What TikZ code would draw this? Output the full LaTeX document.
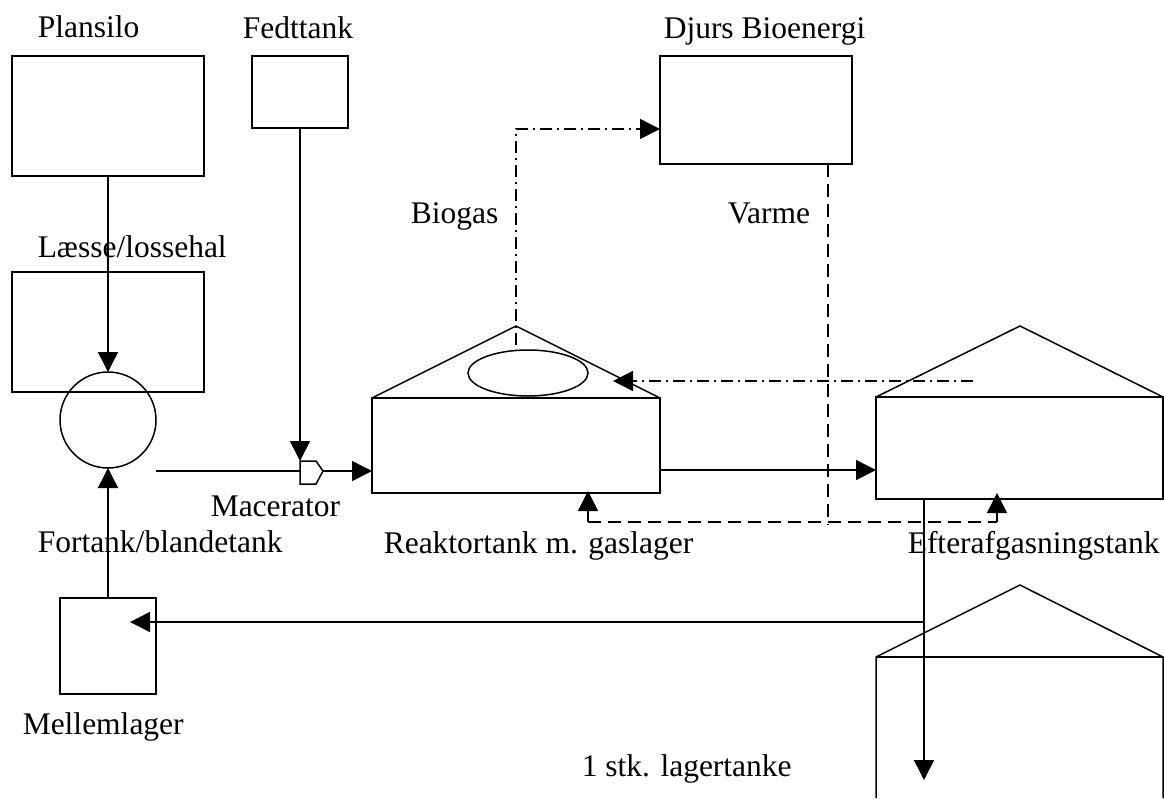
\documentclass[tikz,border=0pt]{standalone}
\usepackage{fontspec}
\setmainfont{Liberation Serif}
\usetikzlibrary{arrows.meta,shapes.geometric}
\begin{document}
\begin{tikzpicture}[x=1pt,y=-1pt,
  every path/.style={line width=1.5pt},
  box/.style={draw,rectangle,line width=1.5pt,inner sep=0pt,outer sep=0pt},
  lbl/.style={anchor=base west,inner sep=0pt,font=\fontsize{31.5}{36}\selectfont},
  flow/.style={-{Triangle[length=20pt,width=20pt]}},
  gasline/.style={dash pattern=on 12pt off 5pt on 2pt off 5pt},
  heatline/.style={dash pattern=on 13pt off 7pt}]
\useasboundingbox (0,0) rectangle (1164,798);
% boxes
\node[box,minimum width=192pt,minimum height=120pt] (plansilo) at (108,116) {};
\node[box,minimum width=96pt,minimum height=72pt] (fedt) at (300,92) {};
\node[box,minimum width=192pt,minimum height=108pt] (djurs) at (756,110) {};
\node[box,minimum width=192pt,minimum height=120pt] (laesse) at (108,332) {};
\node[draw,circle,line width=1.5pt,inner sep=0pt,outer sep=0pt,minimum size=96pt] (mix) at (108,420) {};
\node[box,minimum width=96pt,minimum height=96pt] (mellem) at (108,646) {};
\node[box,minimum width=288pt,minimum height=95pt] (reactor) at (516,445.5) {};
\node[box,minimum width=287pt,minimum height=102pt] (efter) at (1019.5,448) {};
\node[draw,ellipse,line width=1.5pt,inner sep=0pt,minimum width=120pt,minimum height=46pt] (gas) at (528,373) {};
% roofs
\coordinate (rtop) at (516,326);
\coordinate (etop) at (1020,326);
\draw (reactor.north west) -- (rtop) -- (reactor.north east);
\draw (efter.north west) -- (etop) -- (efter.north east);
% storage tank (open bottom)
\coordinate (ltop) at (1020,585);
\coordinate (lwl) at (876,657);
\coordinate (lwr) at (1163,657);
\draw (876,798) -- (lwl) -- (ltop) -- (lwr) -- (1163,798);
\draw (lwl) -- (lwr);
% macerator
\coordinate (mactop) at (300,461);
\coordinate (macin) at (300,471);
\coordinate (macout) at (323,471);
\draw (mactop) -- (316,461) -- (macout) -- (316,484) -- (300,484) -- cycle;
% flows
\coordinate (fy) at (0,470);
\draw[flow] (plansilo.south) -- (mix.north);
\draw[flow] (fedt.south) -- (mactop);
\draw[flow] (mellem.north) -- (mix.south);
\draw (mix.east |- macin) -- (macin);
\draw[flow] (macout) -- (reactor.west |- macout);
\draw[flow] (reactor.east |- fy) -- (efter.west |- fy);
\coordinate (pipetop) at (924,499);
\coordinate (pipebr) at (924,622);
\coordinate (lagerend) at (924,780);
\coordinate (mellemin) at (130,622);
\draw[flow] (pipetop) -- (lagerend);
\draw[flow] (pipebr) -- (mellemin);
% biogas
\coordinate (bgstart) at (516,345);
\coordinate (bgcorner) at (516,129);
\draw[gasline,flow] (bgstart) -- (bgcorner) -- (djurs.west |- bgcorner);
\coordinate (gasret) at (973,381);
\coordinate (gasin) at (613,381);
\draw[gasline,flow] (gasret) -- (gasin);
% heat
\coordinate (hv) at (828,525);
\coordinate (hl) at (588,522);
\coordinate (hr) at (997,522);
\draw[heatline] (djurs.south -| hv) -- (hv);
\draw[heatline] (hl) -- (hr);
\draw[heatline,flow] (hl) -- (588,491);
\draw[heatline,flow] (hr) -- (997,493);
% labels
\node[lbl] (tplansilo) at (37,37) {Plansilo};
\node[lbl] (tfedt) at (242,38) {Fedttank};
\node[lbl] (tdjurs) at (663,38) {Djurs Bioenergi};
\node[lbl] (tbiogas) at (410,223) {Biogas};
\node[lbl] (tvarme) at (727,223) {Varme};
\node[lbl] (tlaesse) at (37,257) {Læsse/lossehal};
\node[lbl] (tmac) at (210,516) {Macerator};
\node[lbl] (tfortank) at (37,552) {Fortank/blandetank};
\node[lbl] (treak) at (383,553) {Reaktortank m. gaslager};
\node[lbl] (tefter) at (907,553) {Efterafgasningstank};
\node[lbl] (tmellem) at (22,734) {Mellemlager};
\node[lbl] (tlager) at (581,776) {1 stk. lagertanke};
\end{tikzpicture}
\end{document}
